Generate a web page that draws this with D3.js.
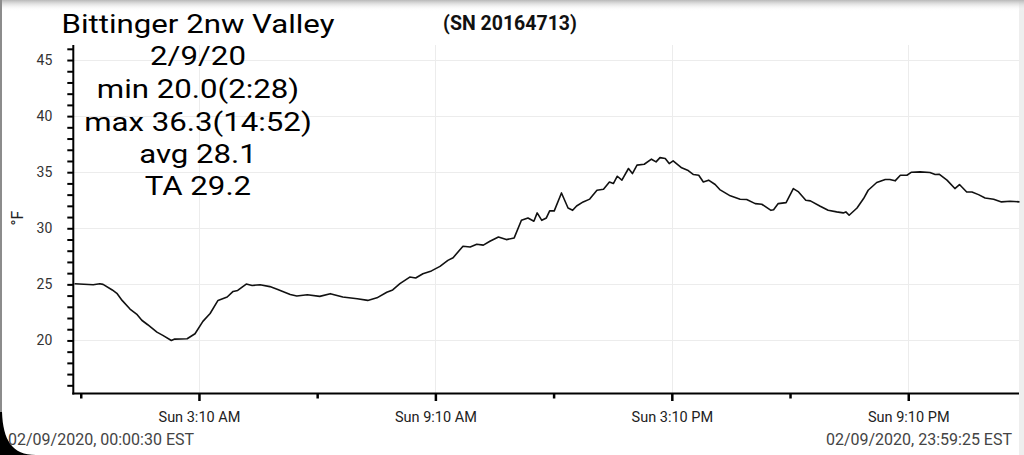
<!DOCTYPE html>
<html><head><meta charset="utf-8">
<script src="https://cdn.jsdelivr.net/npm/d3@7"></script>
<style>
body{margin:0;background:#fff;overflow:hidden;}
svg{display:block;font-family:Roboto,"Noto Sans",sans-serif;}
</style>
</head><body><svg id="c" width="1024" height="455"></svg>
<script>
// ---- data ----
const titleLines = ["Bittinger 2nw Valley", "2/9/20", "min 20.0(2:28)", "max 36.3(14:52)", "avg 28.1", "TA 29.2"];
const serialLabel = "(SN 20164713)";
const yAxisLabel = "°F";
const startLabel = "02/09/2020, 00:00:30 EST";
const endLabel = "02/09/2020, 23:59:25 EST";
// minutes after midnight, 2020-02-09
const minutes = [0.5, 29, 39, 44, 58, 65, 73, 85, 96, 103, 112, 126, 135, 148, 153, 172, 184, 196, 207, 219,
  233, 242, 249, 262, 271, 283, 298, 310, 329, 339, 355, 374, 390, 409, 431, 447, 461, 476, 485, 496,
  511, 520, 531, 544, 557, 569, 577, 592, 603, 613, 623, 633, 646, 658, 670, 681, 691, 700, 705, 712,
  719, 724, 731, 742, 752, 759, 765, 775, 785, 796, 806, 815, 821, 827, 834, 844, 850, 857, 868, 879,
  886, 892, 900, 906, 912, 925, 934, 943, 951, 958, 966, 976, 983, 999, 1014, 1024, 1037, 1047, 1061, 1065,
  1072, 1084, 1095, 1103, 1114, 1121, 1136, 1148, 1161, 1171, 1175, 1180, 1192, 1202, 1209, 1222, 1235, 1242, 1250, 1258,
  1268, 1275, 1288, 1303, 1311, 1317, 1329, 1341, 1348, 1359, 1367, 1377, 1387, 1400, 1412, 1425, 1439.4];
const tempF = [25.06, 24.97, 25.06, 25.0, 24.5, 24.2, 23.57, 22.8, 22.3, 21.8, 21.4, 20.74, 20.45, 20.0, 20.12, 20.15, 20.6, 21.7, 22.4, 23.57,
  23.87, 24.37, 24.46, 25.03, 24.9, 24.97, 24.8, 24.55, 24.1, 23.96, 24.08, 23.93, 24.17, 23.87, 23.72, 23.57, 23.8, 24.3, 24.5, 25.06,
  25.65, 25.57, 25.95, 26.2, 26.6, 27.14, 27.38, 28.4, 28.33, 28.57, 28.5, 28.84, 29.22, 28.99, 29.14, 30.71, 30.92, 30.63, 31.37, 30.71,
  30.92, 31.55, 31.55, 33.15, 31.81, 31.6, 31.99, 32.35, 32.6, 33.39, 33.48, 34.13, 33.99, 34.64, 34.29, 35.33, 34.88, 35.63, 35.71, 36.16,
  35.92, 36.3, 36.22, 35.77, 36.01, 35.39, 35.18, 34.79, 34.73, 34.13, 34.29, 33.9, 33.45, 32.89, 32.59, 32.56, 32.2, 32.14, 31.6, 31.66,
  32.2, 32.29, 33.54, 33.24, 32.5, 32.44, 31.96, 31.6, 31.46, 31.37, 31.46, 31.16, 31.81, 32.65, 33.39, 34.08, 34.35, 34.35, 34.23, 34.73,
  34.73, 35.0, 35.03, 34.97, 34.79, 34.82, 34.29, 33.54, 33.9, 33.24, 33.24, 33.0, 32.7, 32.59, 32.35, 32.41, 32.35];
const yDomain = [15.27, 46.34];
const yMinorTicks = d3.range(16, 47);
const yMajorTicks = [20, 25, 30, 35, 40, 45];
const xMajorMinutes = [190, 550, 910, 1270];
const xMajorLabels = ["Sun 3:10 AM", "Sun 9:10 AM", "Sun 3:10 PM", "Sun 9:10 PM"];
const xMinorMinutes = [10, 370, 730, 1090];

// ---- setup ----
const day0 = new Date(2020, 1, 9, 0, 0, 0).getTime();
const toDate = m => new Date(day0 + m * 60000);
const data = minutes.map((m, i) => ({t: toDate(m), v: tempF[i]}));

const svg = d3.select("#c");
const L = 73.3, R = 1019, T = 45, B = 393.5;

const x = d3.scaleTime().domain([toDate(0.5), toDate(1439.4)]).range([74.5, 1019.5]);
const y = d3.scaleLinear().domain(yDomain).range([B, T]);

// ---- screen decoration ----
const defs = svg.append("defs");
const g1 = defs.append("linearGradient").attr("id", "topShade").attr("x1", 0).attr("y1", 0).attr("x2", 0).attr("y2", 1);
g1.append("stop").attr("offset", "0%").attr("stop-color", "#b8b8b8");
g1.append("stop").attr("offset", "100%").attr("stop-color", "#ffffff").attr("stop-opacity", 0);
svg.append("rect").attr("width", 1024).attr("height", 455).attr("fill", "#fff");
svg.append("rect").attr("x", 1019).attr("y", 0).attr("width", 5).attr("height", 455).attr("fill", "#eeeeee");
svg.append("rect").attr("x", 0).attr("y", 0).attr("width", 1024).attr("height", 11).attr("fill", "url(#topShade)");
svg.append("rect").attr("x", 0).attr("y", 0).attr("width", 2).attr("height", 455).attr("fill", "#8c8c8c");
svg.append("path").attr("d", "M0,412 L2,412 C3,440 12,455 36,455 L0,455 Z").attr("fill", "#000");

// ---- grid ----
const grid = svg.append("g").attr("stroke", "#ececec").attr("stroke-width", 1);
grid.selectAll("line.h").data(yMajorTicks).join("line")
  .attr("x1", L).attr("x2", R).attr("y1", d => Math.round(y(d)) + 0.5).attr("y2", d => Math.round(y(d)) + 0.5);
grid.selectAll("line.v").data(xMajorMinutes).join("line")
  .attr("y1", T).attr("y2", B).attr("x1", d => Math.round(x(toDate(d))) + 0.5).attr("x2", d => Math.round(x(toDate(d))) + 0.5);

// ---- y axis ----
const yAxis = svg.append("g").attr("transform", `translate(${L},0)`)
  .call(d3.axisLeft(y).tickValues(yMinorTicks).tickSize(6).tickSizeOuter(0)
    .tickFormat(d => yMajorTicks.includes(d) ? String(d) : ""));
yAxis.select(".domain").remove();
yAxis.selectAll(".tick line").attr("stroke", "#000").attr("stroke-width", 2);
yAxis.selectAll(".tick text").attr("x", -21).attr("fill", "#333").style("font-size", "14px").style("font-family", "Roboto");

// ---- x axis ----
const xAxisMinor = svg.append("g").attr("transform", `translate(0,${B})`)
  .call(d3.axisBottom(x).tickValues(xMinorMinutes.map(toDate)).tickSize(5).tickSizeOuter(0).tickFormat(() => ""));
xAxisMinor.select(".domain").remove();
xAxisMinor.selectAll(".tick line").attr("stroke", "#000").attr("stroke-width", 2.5);
const xAxisMajor = svg.append("g").attr("transform", `translate(0,${B})`)
  .call(d3.axisBottom(x).tickValues(xMajorMinutes.map(toDate)).tickSize(7.5).tickSizeOuter(0)
    .tickFormat((d, i) => xMajorLabels[i]));
xAxisMajor.select(".domain").remove();
xAxisMajor.selectAll(".tick line").attr("stroke", "#000").attr("stroke-width", 2.5);
xAxisMajor.selectAll(".tick text").attr("y", 28).attr("dy", 0).attr("fill", "#222")
  .style("font-size", "14.5px").style("font-family", "Roboto");

// axis lines
svg.append("line").attr("x1", L).attr("x2", L).attr("y1", T).attr("y2", B + 1).attr("stroke", "#000").attr("stroke-width", 2);
svg.append("line").attr("x1", L - 1).attr("x2", R).attr("y1", B).attr("y2", B).attr("stroke", "#000").attr("stroke-width", 2);

// ---- series ----
svg.append("path").datum(data)
  .attr("fill", "none").attr("stroke", "#111").attr("stroke-width", 1.6).attr("stroke-linejoin", "round")
  .attr("d", d3.line().x(d => x(d.t)).y(d => y(d.v)));

// ---- texts ----
const baselines = [33, 65, 98, 131, 163, 195];
svg.append("g").selectAll("text").data(titleLines).join("text")
  .attr("transform", (d, i) => `translate(198,${baselines[i]}) scale(1.2,1)`)
  .attr("text-anchor", "middle")
  .attr("fill", "#000").style("font-size", "26px").text(d => d);

svg.append("text").attr("x", 510).attr("y", 30).attr("text-anchor", "middle")
  .attr("fill", "#111").style("font-size", "19.5px").style("font-weight", "bold").text(serialLabel);

svg.append("text").attr("transform", "translate(23,218) rotate(-90)").attr("text-anchor", "middle")
  .attr("fill", "#222").style("font-size", "16px").text(yAxisLabel);

svg.append("text").attr("x", 8).attr("y", 445).attr("fill", "#444").style("font-size", "16px").text(startLabel);
svg.append("text").attr("x", 1012).attr("y", 445).attr("text-anchor", "end").attr("fill", "#444").style("font-size", "16px").text(endLabel);
</script>
</body></html>
